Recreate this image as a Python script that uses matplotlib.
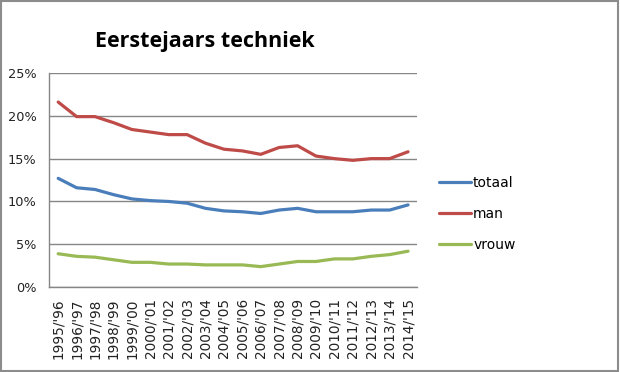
import matplotlib
matplotlib.use("Agg")
import matplotlib.pyplot as plt
from matplotlib.patches import Rectangle
from matplotlib.ticker import FuncFormatter

years = ["1995/'96", "1996/'97", "1997/'98", "1998/'99", "1999/'00", "2000/'01",
         "2001/'02", "2002/'03", "2003/'04", "2004/'05", "2005/'06", "2006/'07",
         "2007/'08", "2008/'09", "2009/'10", "2010/'11", "2011/'12", "2012/'13",
         "2013/'14", "2014/'15"]
totaal = [12.7, 11.6, 11.4, 10.8, 10.3, 10.1, 10.0, 9.8, 9.2, 8.9, 8.8, 8.6,
          9.0, 9.2, 8.8, 8.8, 8.8, 9.0, 9.0, 9.6]
man = [21.6, 19.9, 19.9, 19.2, 18.4, 18.1, 17.8, 17.8, 16.8, 16.1, 15.9, 15.5,
       16.3, 16.5, 15.3, 15.0, 14.8, 15.0, 15.0, 15.8]
vrouw = [3.9, 3.6, 3.5, 3.2, 2.9, 2.9, 2.7, 2.7, 2.6, 2.6, 2.6, 2.4,
         2.7, 3.0, 3.0, 3.3, 3.3, 3.6, 3.8, 4.2]

fig = plt.figure(figsize=(6.2, 3.72), dpi=100)
ax = fig.add_axes([0.079, 0.228, 0.594, 0.576])

x = list(range(len(years)))
ax.plot(x, totaal, color="#4A7EBB", lw=2.3, label="totaal", solid_capstyle="round")
ax.plot(x, man, color="#BE4B48", lw=2.3, label="man", solid_capstyle="round")
ax.plot(x, vrouw, color="#98B954", lw=2.3, label="vrouw", solid_capstyle="round")

ax.set_xlim(-0.5, len(years) - 0.5)
ax.set_ylim(0, 25)
ax.set_yticks([0, 5, 10, 15, 20, 25])
ax.yaxis.set_major_formatter(FuncFormatter(lambda v, p: f"{int(v)}%"))
ax.set_xticks(x)
ax.set_xticklabels(years, rotation=90, fontsize=9.8, color="#222222")
ax.tick_params(axis="y", labelsize=9.3, length=0, pad=9, labelcolor="#222222")
ax.tick_params(axis="x", length=0, pad=8)
ax.grid(axis="y", color="#868686", lw=1)
ax.set_axisbelow(True)
for s in ["top", "right"]:
    ax.spines[s].set_visible(False)
for s in ["left", "bottom"]:
    ax.spines[s].set_color("#868686")
    ax.spines[s].set_linewidth(1)

fig.text(0.331, 0.888, "Eerstejaars techniek", ha="center", va="center",
         fontsize=15.5, fontweight="bold", family="Open Sans")

fig.legend(loc="center left", bbox_to_anchor=(0.688, 0.425), frameon=False,
           fontsize=10, handlelength=2.3, handletextpad=0.15, labelspacing=1.25)

fig.add_artist(Rectangle((0.002, 0.003), 0.995, 0.993, transform=fig.transFigure,
                         fill=False, edgecolor="#8C8C8C", lw=1.5))

fig.savefig("out.png", dpi=100)
